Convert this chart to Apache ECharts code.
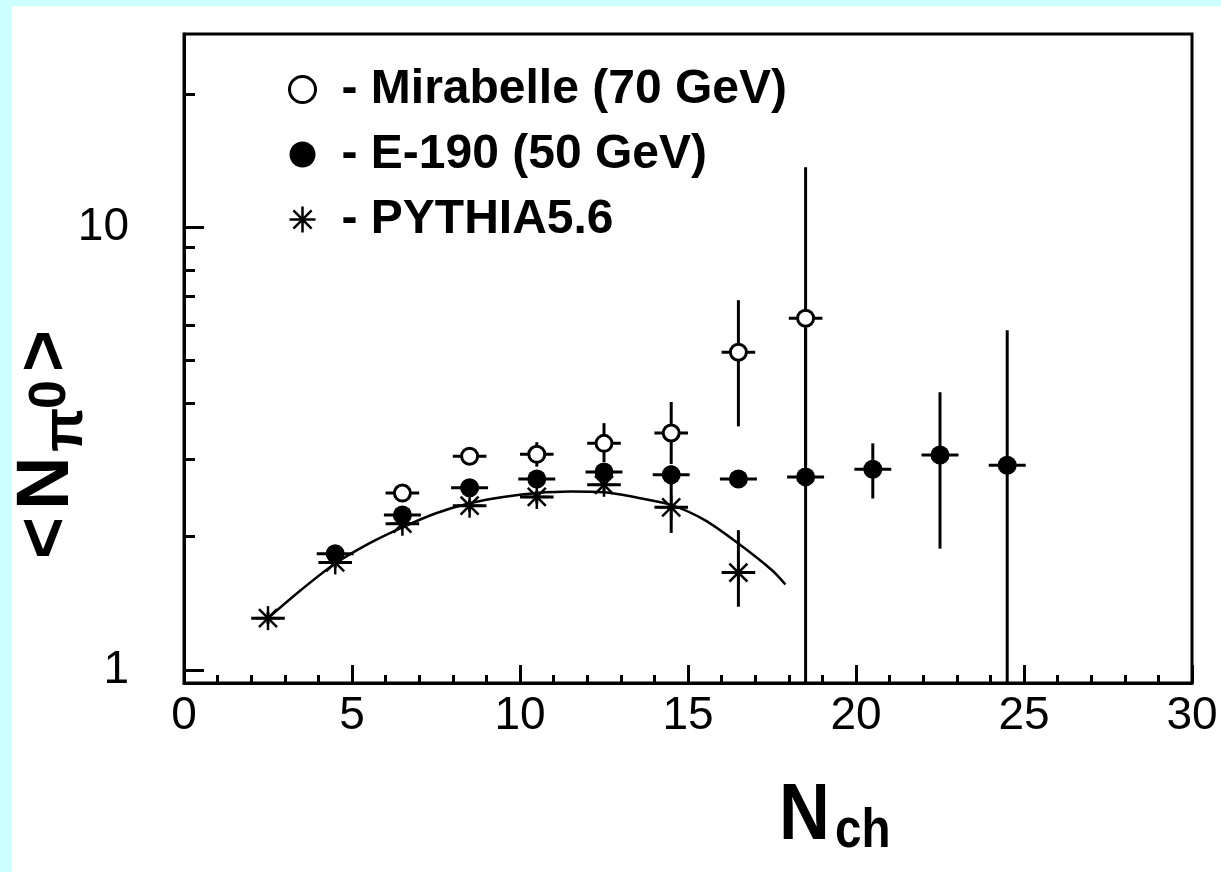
<!DOCTYPE html>
<html>
<head>
<meta charset="utf-8">
<script src="https://cdn.jsdelivr.net/npm/echarts@6/dist/echarts.min.js"></script>
<style>
  html, body { margin: 0; padding: 0; background: #ccffff; }
  #chart { width: 1221px; height: 872px; }
</style>
</head>
<body>
<div id="chart"></div>
<script>
// Mirabelle (70 GeV) - open circles
const mirabelleX = [6.5, 8.5, 10.5, 12.5, 14.5, 16.5, 18.5];
const mirabelleY = [2.51, 3.04, 3.07, 3.25, 3.43, 5.22, 6.23];
const mirabelleLo = [2.45, 2.98, 2.88, 2.95, 2.92, 3.55, 2.90];
const mirabelleHi = [2.57, 3.10, 3.27, 3.61, 4.03, 6.84, 13.66];

// E-190 (50 GeV) - filled circles
const e190X = [4.5, 6.5, 8.5, 10.5, 12.5, 14.5, 16.5, 18.5, 20.5, 22.5, 24.5];
const e190Y = [1.83, 2.24, 2.58, 2.70, 2.80, 2.76, 2.70, 2.73, 2.84, 3.06, 2.90];
const e190Lo = [1.78, 2.17, 2.50, 2.62, 2.70, 2.62, 2.64, 0.5, 2.44, 1.88, 0.5];
const e190Hi = [1.88, 2.31, 2.66, 2.78, 2.90, 2.90, 2.76, 6.20, 3.25, 4.24, 5.85];

// PYTHIA5.6 - stars
const pythiaX = [2.5, 4.5, 6.5, 8.5, 10.5, 12.5, 14.5, 16.5];
const pythiaY = [1.31, 1.75, 2.14, 2.35, 2.46, 2.62, 2.33, 1.66];
const pythiaLo = [1.27, 1.70, 2.08, 2.28, 2.38, 2.52, 2.04, 1.39];
const pythiaHi = [1.35, 1.80, 2.20, 2.42, 2.54, 2.72, 2.65, 2.07];

// fitted curve
const fitX = [2.5, 3.5, 4.5, 5.5, 6.5, 7.5, 8.5, 9.5, 10.5, 11.5, 12.5, 13.5, 14.5, 15.5, 16.5, 17.5, 17.9];
const fitY = [1.31, 1.52, 1.74, 1.93, 2.10, 2.26, 2.38, 2.46, 2.51, 2.53, 2.52, 2.45, 2.36, 2.18, 1.93, 1.68, 1.56];

const xTicks = [0, 5, 10, 15, 20, 25, 30];
const yMajor = [1, 10];
const yMinor = [2, 3, 4, 5, 6, 7, 8, 9, 20];

const names = ['Mirabelle (70 GeV)', 'E-190 (50 GeV)', 'PYTHIA5.6'];
const xErr = [0.5, 0.55, 0.5];

const zip = (xs, ys, lo, hi, xe) => xs.map((x, i) => [x, ys[i], xe, lo[i], hi[i]]);

const starPath = 'path://M0,10L20,10M10,0L10,20M3,3L17,17M17,3L3,17';

function errorRender(kind) {
  return function (params, api) {
    const x = api.value(0), y = api.value(1), xe = api.value(2);
    const c = api.coord([x, y]);
    const l = api.coord([x - xe, y]);
    const r = api.coord([x + xe, y]);
    const t = api.coord([x, api.value(4)]);
    const b = api.coord([x, api.value(3)]);
    const ls = { stroke: '#000', lineWidth: 3 };
    const children = [
      { type: 'line', shape: { x1: l[0], y1: c[1], x2: r[0], y2: c[1] }, style: ls },
      { type: 'line', shape: { x1: c[0], y1: t[1], x2: c[0], y2: b[1] }, style: ls }
    ];
    if (kind === 'open') {
      children.push({ type: 'circle', shape: { cx: c[0], cy: c[1], r: 8 }, style: { fill: '#fff', stroke: '#000', lineWidth: 3 } });
    } else if (kind === 'filled') {
      children.push({ type: 'circle', shape: { cx: c[0], cy: c[1], r: 9.5 }, style: { fill: '#000' } });
    } else {
      const s = 12, d = 9;
      const st = { stroke: '#000', lineWidth: 2.5 };
      children.push({ type: 'line', shape: { x1: c[0] - s, y1: c[1], x2: c[0] + s, y2: c[1] }, style: st });
      children.push({ type: 'line', shape: { x1: c[0] - d, y1: c[1] - d, x2: c[0] + d, y2: c[1] + d }, style: st });
      children.push({ type: 'line', shape: { x1: c[0] + d, y1: c[1] - d, x2: c[0] - d, y2: c[1] + d }, style: st });
      children.push({ type: 'line', shape: { x1: c[0], y1: c[1] - s, x2: c[0], y2: c[1] + s }, style: st });
    }
    return { type: 'group', children: children };
  };
}

const chart = echarts.init(document.getElementById('chart'));

const fontFamily = "'Liberation Sans', Arial, sans-serif";

const option = {
  backgroundColor: '#ccffff',
  animation: false,
  graphic: [
    { type: 'rect', z: -100, silent: true, shape: { x: 11, y: 6, width: 1210, height: 866 }, style: { fill: '#fff' } },
    // x title N_ch
    { type: 'text', x: 779, y: 817, scaleX: 0.88, style: { text: 'N', font: 'bold 80px ' + fontFamily, fill: '#000', verticalAlign: 'middle' } },
    { type: 'text', x: 835, y: 832, scaleX: 0.85, style: { text: 'ch', font: 'bold 56px ' + fontFamily, fill: '#000', verticalAlign: 'middle' } },
    // y title <N_pi0>
    {
      type: 'group', x: 74, y: 557, rotation: Math.PI / 2,
      children: [
        { type: 'text', x: -2, y: -27, style: { text: '<', font: 'bold 72px ' + fontFamily, fill: '#000', verticalAlign: 'middle' } },
        { type: 'text', x: 47, y: -26, style: { text: 'N', font: 'bold 74px ' + fontFamily, fill: '#000', verticalAlign: 'middle' } },
        { type: 'text', x: 105, y: -8, style: { text: 'π', font: 'bold 58px ' + fontFamily, fill: '#000', verticalAlign: 'middle' } },
        { type: 'text', x: 148, y: -23, style: { text: '0', font: 'bold 52px ' + fontFamily, fill: '#000', verticalAlign: 'middle' } },
        { type: 'text', x: 185, y: -27, style: { text: '>', font: 'bold 72px ' + fontFamily, fill: '#000', verticalAlign: 'middle' } }
      ]
    }
  ],
  grid: {
    left: 184, right: 29, top: 34, bottom: 189,
    show: true, borderColor: '#000', borderWidth: 3, backgroundColor: 'transparent'
  },
  legend: {
    orient: 'vertical', left: 287, top: 57, padding: 0, itemGap: 0,
    itemWidth: 26, itemHeight: 26, selectedMode: false,
    formatter: name => '- ' + name,
    textStyle: {
      fontSize: 48, fontWeight: 'bold', color: '#000',
      fontFamily: fontFamily,
      lineHeight: 52, padding: [0, 0, 13, 21]
    },
    data: [
      { name: names[0], icon: 'circle', itemStyle: { color: '#fff', borderColor: '#000', borderWidth: 3 } },
      { name: names[1], icon: 'circle', itemStyle: { color: '#000', borderWidth: 0 } },
      { name: names[2], icon: starPath, itemStyle: { color: 'none', borderColor: '#000', borderWidth: 2.5 } }
    ]
  },
  xAxis: {
    type: 'value', min: 0, max: 30, interval: 5,
    axisLine: { show: true, lineStyle: { color: '#000', width: 3 } },
    axisTick: { show: true, inside: true, length: 18, lineStyle: { color: '#000', width: 3 }, customValues: xTicks },
    minorTick: { show: true, splitNumber: 5, length: 8, lineStyle: { color: '#000', width: 3 } },
    axisLabel: { fontSize: 46, color: '#000', fontFamily: fontFamily, margin: 10, customValues: xTicks },
    splitLine: { show: false }
  },
  yAxis: [
    {
      type: 'log', logBase: 10, min: 0.935, max: 27.3,
      axisLine: { show: true, lineStyle: { color: '#000', width: 3 } },
      axisTick: { show: true, inside: true, length: 20, lineStyle: { color: '#000', width: 3 }, customValues: yMajor },
      axisLabel: { fontSize: 46, color: '#000', fontFamily: fontFamily, margin: 55, customValues: yMajor },
      splitLine: { show: false }
    },
    {
      type: 'log', logBase: 10, min: 0.935, max: 27.3, position: 'left',
      axisLine: { show: false },
      axisTick: { show: true, inside: true, length: 11, lineStyle: { color: '#000', width: 3 }, customValues: yMinor },
      axisLabel: { show: false },
      splitLine: { show: false }
    }
  ],
  series: [
    {
      name: 'fit', type: 'line', data: fitX.map((x, i) => [x, fitY[i]]),
      smooth: 0.3, symbol: 'none', lineStyle: { color: '#000', width: 2.5 }, z: 1
    },
    {
      name: names[2], type: 'custom', clip: true, z: 2,
      itemStyle: { color: '#000' },
      renderItem: errorRender('star'),
      data: zip(pythiaX, pythiaY, pythiaLo, pythiaHi, xErr[2])
    },
    {
      name: names[1], type: 'custom', clip: true, z: 3,
      itemStyle: { color: '#000' },
      renderItem: errorRender('filled'),
      data: zip(e190X, e190Y, e190Lo, e190Hi, xErr[1])
    },
    {
      name: names[0], type: 'custom', clip: true, z: 4,
      itemStyle: { color: '#000' },
      renderItem: errorRender('open'),
      data: zip(mirabelleX, mirabelleY, mirabelleLo, mirabelleHi, xErr[0])
    }
  ]
};

chart.setOption(option);
</script>
</body>
</html>
